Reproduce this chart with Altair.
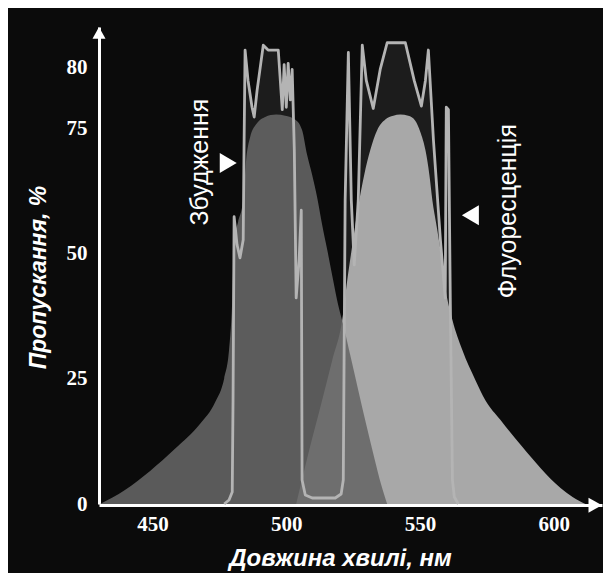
import altair as alt
import pandas as pd

# excitation spectrum (dark fill)
ex_nm = [430.4, 439.7, 449.1, 458.4, 467.8, 473.4, 476.8, 478.6, 479.8, 480.5,
         482.0, 483.9, 485.0, 486.5, 489.1, 492.1, 496.2, 499.6, 503.3, 505.9,
         507.8, 509.7, 511.6, 513.4, 515.3, 517.5, 519.4, 521.3, 523.9, 526.9,
         529.9, 532.9, 535.5, 537.7]
ex_val = [0, 2.8, 6.6, 11.0, 16.0, 20.3, 25.1, 30.7, 40.7, 52.7,
          56.3, 60.7, 68.6, 73.2, 75.4, 75.9, 76.1, 76.0, 75.7, 74.6,
          69.6, 65.6, 61.0, 55.7, 50.7, 44.7, 39.7, 35.7, 29.7, 22.7,
          15.8, 9.2, 3.8, 0]

# fluorescence spectrum (light fill)
em_nm = [503.7, 508.6, 513.4, 517.2, 520.9, 522.8, 524.7, 527.3, 529.1, 531.4,
         534.0, 537.0, 540.0, 542.6, 545.6, 548.2, 550.1, 552.0, 553.5, 554.6,
         556.1, 557.6, 559.4, 562.1, 565.8, 570.7, 574.4, 580.0, 588.2, 595.0,
         602.5, 607.0, 611.8]
em_val = [0, 10.8, 20.7, 28.7, 36.7, 44.7, 51.7, 60.6, 65.6, 70.6,
          74.6, 75.7, 76.0, 76.1, 76.0, 75.6, 74.2, 70.6, 65.6, 60.6,
          55.7, 50.7, 43.3, 36.7, 30.7, 24.7, 20.7, 16.8, 11.4, 7.2,
          3.2, 1.4, 0]

# filter transmission (outline)
flt_nm = [476.8, 478.6, 479.8, 480.1, 480.5, 481.6, 482.7, 483.9, 484.2, 484.6,
          485.7, 487.2, 488.0, 489.1, 491.4, 493.2, 497.0, 498.5, 499.2, 500.0,
          500.7, 501.5, 502.2, 503.0, 503.7, 504.8, 505.6, 505.9, 507.1, 509.7,
          518.3, 520.5, 521.3, 522.0, 523.2, 524.3, 525.4, 526.9, 528.4, 529.9,
          532.5, 535.1, 537.7, 544.5, 547.8, 550.5, 552.0, 553.1, 555.0, 557.6,
          559.4, 559.8, 560.6, 561.3, 562.1, 562.8, 564.3]
flt_val = [0, 0.8, 2.4, 20.7, 57.3, 51.7, 49.1, 52.7, 70.6, 81.4,
           78.9, 76.7, 75.9, 78.1, 81.8, 81.4, 81.4, 76.5, 80.2, 76.7,
           80.3, 77.3, 79.8, 70.6, 41.1, 48.7, 58.6, 4.8, 1.8, 1.2,
           1.2, 2.0, 4.8, 60.6, 81.2, 60.6, 47.7, 60.6, 81.8, 78.9,
           76.6, 79.8, 82.0, 82.0, 78.9, 76.8, 78.9, 81.4, 72.6, 52.7,
           41.1, 76.7, 76.5, 40.7, 4.8, 1.4, 0]

# annotations
note_text = ["Збудження", "Флуоресценція"]
note_nm = [467.8, 583.0]
note_val = [68.2, 58.4]
mark_nm = [478.3, 568.8]
mark_val = [68.0, 57.6]

x_ticks = [450, 500, 550, 600]
y_ticks = [0, 25, 50, 75, 80]
x_dom = [430, 618]
y_dom = [0, 75, 80, 83.3]
y_rng = [477, 101, 40, 0]

xs = alt.Scale(domain=x_dom, nice=False, zero=False)
ys = alt.Scale(domain=y_dom, range=y_rng, nice=False, zero=False)

x_axis = alt.Axis(values=x_ticks, ticks=False, grid=False, domainColor="white",
                  domainWidth=3, labelColor="white", labelFont="Liberation Serif",
                  labelFontWeight="bold", labelFontSize=21, labelPadding=8,
                  labelFlush=False,
                  title="Довжина хвилі, нм", titleColor="white",
                  titleFont="Liberation Sans", titleFontStyle="italic",
                  titleFontWeight="bold", titleFontSize=24,
                  titleX=241, titleY=53, titleBaseline="middle")
y_axis = alt.Axis(values=y_ticks, ticks=False, grid=False, domainColor="white",
                  domainWidth=3, labelColor="white", labelFont="Liberation Serif",
                  labelFontWeight="bold", labelFontSize=21, labelPadding=12,
                  labelFlush=False, labelBaseline="middle",
                  title="Пропускання, %", titleColor="white",
                  titleFont="Liberation Sans", titleFontStyle="italic",
                  titleFontWeight="bold", titleFontSize=23,
                  titleX=-61, titleY=250, titleBaseline="middle", titleAngle=270)

X = alt.X("nm:Q", scale=xs, axis=x_axis)
Y = alt.Y("val:Q", scale=ys, axis=y_axis)

ex_df = pd.DataFrame({"nm": ex_nm, "val": ex_val})
em_df = pd.DataFrame({"nm": em_nm, "val": em_val})
flt_df = pd.DataFrame({"nm": flt_nm, "val": flt_val})
note_df = pd.DataFrame({"nm": note_nm, "val": note_val, "t": note_text})
mk_r = pd.DataFrame({"nm": mark_nm[:1], "val": mark_val[:1]})
mk_l = pd.DataFrame({"nm": mark_nm[1:], "val": mark_val[1:]})
arr_y = pd.DataFrame({"nm": [x_dom[0]], "val": [y_dom[-1]]})
arr_x = pd.DataFrame({"nm": [x_dom[1]], "val": [y_dom[0]]})

flt_fill = alt.Chart(flt_df).mark_area(color="#1c1c1c").encode(x=X, y=Y)
em_fill = alt.Chart(em_df).mark_area(color="#a8a8a8", interpolate="monotone").encode(x=X, y=Y)
ex_fill = alt.Chart(ex_df).mark_area(color="#666666", opacity=0.873,
                                     interpolate="monotone").encode(x=X, y=Y)
flt_line = alt.Chart(flt_df).mark_line(color="#b4b4b4", strokeWidth=2.8,
                                       strokeJoin="round").encode(x=X, y=Y)

notes = alt.Chart(note_df).mark_text(angle=270, font="Liberation Sans", fontSize=25,
                                     color="white", align="center",
                                     baseline="middle").encode(x=X, y=Y, text="t:N")
tri_r = alt.Chart(mk_r).mark_point(shape="M-0.85,-1L0.85,0L-0.85,1Z", filled=True,
                                   opacity=1, color="white", size=400,
                                   strokeWidth=0).encode(x=X, y=Y)
tri_l = alt.Chart(mk_l).mark_point(shape="M0.85,-1L-0.85,0L0.85,1Z", filled=True,
                                   opacity=1, color="white", size=400,
                                   strokeWidth=0).encode(x=X, y=Y)
head_y = alt.Chart(arr_y).mark_point(shape="M0,0L1,1.8L-1,1.8Z", filled=True,
                                     opacity=1, color="white", size=169,
                                     strokeWidth=0).encode(x=X, y=Y)
head_x = alt.Chart(arr_x).mark_point(shape="M0,0.15L-1.8,-0.85L-1.8,1.15Z", filled=True,
                                     opacity=1, color="white", size=225,
                                     strokeWidth=0).encode(x=X, y=Y)

chart = alt.layer(flt_fill, em_fill, ex_fill, flt_line, notes, tri_r, tri_l,
                  head_y, head_x).properties(
    width=503, height=478,
    padding={"left": 91, "top": 19, "right": 1, "bottom": 68},
    autosize=alt.AutoSizeParams(type="none"),
).configure(background="#0b0b0b").configure_view(stroke=None)

chart.save("out.html", embed_options={"renderer": "svg", "actions": False})
